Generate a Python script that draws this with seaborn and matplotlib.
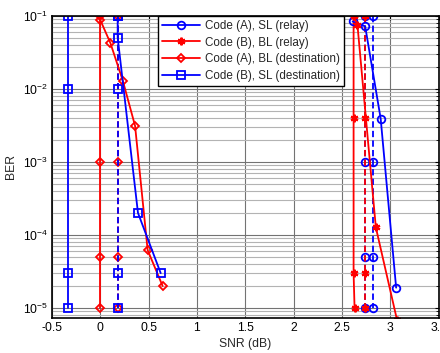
import matplotlib
matplotlib.use("Agg")
import matplotlib.pyplot as plt
import seaborn as sns
import pandas as pd
import numpy as np
from matplotlib.ticker import LogLocator, NullFormatter
from matplotlib.lines import Line2D

# ---- data ----
# relay (right group)
codeA_SL_relay_snr = [2.61, 2.74, 2.90, 3.06]
codeA_SL_relay_ber = [8.3e-2, 7.1e-2, 3.9e-3, 1.9e-5]
codeB_BL_relay_snr = [2.62, 2.66, 2.85, 3.07]
codeB_BL_relay_ber = [1.0e-1, 7.4e-2, 1.27e-4, 6.8e-6]
relay_red_solid_snr = [2.62, 2.62, 2.62, 2.63]
relay_red_solid_ber = [1e-1, 4e-3, 3e-5, 1e-5]
relay_red_dash_snr = [2.74, 2.74, 2.74, 2.74]
relay_red_dash_ber = [1e-1, 4e-3, 3e-5, 1e-5]
relay_blue_dash1_snr = [2.74, 2.74, 2.74, 2.74]
relay_blue_dash1_ber = [1e-1, 1e-3, 5e-5, 1e-5]
relay_blue_dash2_snr = [2.82, 2.82, 2.82, 2.82]
relay_blue_dash2_ber = [1e-1, 1e-3, 5e-5, 1e-5]

# destination (left group)
codeA_BL_dest_snr = [0.0, 0.105, 0.235, 0.36, 0.49, 0.645]
codeA_BL_dest_ber = [8.7e-2, 4.2e-2, 1.26e-2, 3.1e-3, 6.2e-5, 2.0e-5]
codeB_SL_dest_snr = [0.18, 0.18, 0.39, 0.625]
codeB_SL_dest_ber = [1e-1, 5e-2, 2e-4, 3e-5]
dest_blue_solid_snr = [-0.33, -0.33, -0.33, -0.33]
dest_blue_solid_ber = [1e-1, 1e-2, 3e-5, 1e-5]
dest_red_solid_snr = [0.0, 0.0, 0.0, 0.0]
dest_red_solid_ber = [1e-1, 1e-3, 5e-5, 1e-5]
dest_red_dash_snr = [0.18, 0.18, 0.18, 0.18]
dest_red_dash_ber = [1e-1, 1e-3, 5e-5, 1e-5]
dest_blue_dash_snr = [0.18, 0.18, 0.18, 0.18]
dest_blue_dash_ber = [1e-1, 1e-2, 3e-5, 1e-5]

legend_labels = ["Code (A), SL (relay)", "Code (B), BL (relay)",
                 "Code (A), BL (destination)", "Code (B), SL (destination)"]

x_ticks = [-0.5, 0, 0.5, 1, 1.5, 2, 2.5, 3, 3.5]
x_tick_labels = ["-0.5", "0", "0.5", "1", "1.5", "2", "2.5", "3", "3.5"]
y_ticks = [1e-5, 1e-4, 1e-3, 1e-2, 1e-1]
y_tick_labels = [r"$10^{-5}$", r"$10^{-4}$", r"$10^{-3}$", r"$10^{-2}$", r"$10^{-1}$"]

# ---- style ----
sns.set_theme(style="white")
plt.rcParams["font.family"] = ["Liberation Sans", "DejaVu Sans"]
plt.rcParams["mathtext.fontset"] = "custom"
plt.rcParams["mathtext.rm"] = "Liberation Sans"
plt.rcParams["mathtext.it"] = "Liberation Sans"
plt.rcParams["mathtext.bf"] = "Liberation Sans"

fig = plt.figure(figsize=(4.40, 3.53), dpi=100)
ax = fig.add_axes([0.118, 0.099, 0.879, 0.857])

BLUE = "#0000ff"
RED = "#ff0000"
ASTER = (6, 2, 0)

def draw(snr, ber, color, marker, dashed=False, ms=5.5, mew=1.3):
    df = pd.DataFrame({"snr": snr, "ber": ber})
    sns.lineplot(data=df, x="snr", y="ber", ax=ax, sort=False, estimator=None,
                 color=color, lw=1.3, marker=marker, markersize=ms,
                 markeredgecolor=color, markerfacecolor="none", markeredgewidth=mew,
                 linestyle=(0, (3.5, 1.8)) if dashed else "-", legend=False)

# destination group
draw(dest_blue_solid_snr, dest_blue_solid_ber, BLUE, "s")
draw(dest_red_solid_snr, dest_red_solid_ber, RED, "D", ms=4.5)
draw(dest_red_dash_snr, dest_red_dash_ber, RED, "D", dashed=True, ms=4.5)
draw(dest_blue_dash_snr, dest_blue_dash_ber, BLUE, "s", dashed=True)
draw(codeA_BL_dest_snr, codeA_BL_dest_ber, RED, "D", ms=4.5)
draw(codeB_SL_dest_snr, codeB_SL_dest_ber, BLUE, "s")

# relay group
draw(relay_blue_dash1_snr, relay_blue_dash1_ber, BLUE, "o", dashed=True)
draw(relay_blue_dash2_snr, relay_blue_dash2_ber, BLUE, "o", dashed=True)
draw(relay_red_solid_snr, relay_red_solid_ber, RED, ASTER, mew=1.6)
draw(relay_red_dash_snr, relay_red_dash_ber, RED, ASTER, dashed=True, mew=1.6)
draw(codeA_SL_relay_snr, codeA_SL_relay_ber, BLUE, "o")
draw(codeB_BL_relay_snr, codeB_BL_relay_ber, RED, ASTER, mew=1.6)

ax.set_yscale("log")
ax.set_xlim(-0.5, 3.5)
ax.set_ylim(7.3e-6, 1e-1)

ax.set_xticks(x_ticks)
ax.set_xticklabels(x_tick_labels)
ax.set_yticks(y_ticks)
ax.set_yticklabels(y_tick_labels)
ax.yaxis.set_minor_locator(LogLocator(base=10, subs=np.arange(2, 10)))
ax.yaxis.set_minor_formatter(NullFormatter())

ax.grid(True, which="major", axis="both", color="0.45", lw=0.8)
ax.grid(True, which="minor", axis="y", color="0.7", lw=0.8)
ax.set_axisbelow(True)

ax.tick_params(axis="both", which="both", direction="in", top=True, right=True,
               labelsize=8.7, colors="black", pad=3)
ax.tick_params(which="major", length=3, width=0.8)
ax.tick_params(which="minor", length=2, width=0.6)
for s in ax.spines.values():
    s.set_color("black")
    s.set_linewidth(1.2)

ax.set_xlabel("SNR (dB)", fontsize=8.7, labelpad=3)
ax.set_ylabel("BER", fontsize=8.7, labelpad=4)

handles = [
    Line2D([], [], color=BLUE, lw=1.3, marker="o", ms=5.5, mfc="none", mec=BLUE, mew=1.3),
    Line2D([], [], color=RED, lw=1.3, marker=ASTER, ms=5.5, mfc="none", mec=RED, mew=1.6),
    Line2D([], [], color=RED, lw=1.3, marker="D", ms=4.5, mfc="none", mec=RED, mew=1.3),
    Line2D([], [], color=BLUE, lw=1.3, marker="s", ms=5.5, mfc="none", mec=BLUE, mew=1.3),
]
leg = ax.legend(handles, legend_labels, loc="upper left", bbox_to_anchor=(0.273, 1.0),
                fontsize=8.4, frameon=True, fancybox=False, framealpha=1,
                edgecolor="black", borderpad=0.35, labelspacing=0.42,
                handlelength=3.3, handletextpad=0.4, borderaxespad=0)
leg.get_frame().set_linewidth(1.0)

fig.savefig("out.png", dpi=100)
